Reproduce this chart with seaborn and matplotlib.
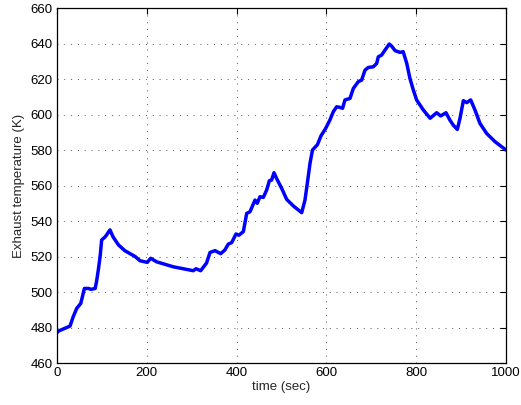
import numpy as np
import pandas as pd
import matplotlib
matplotlib.use('Agg')
import matplotlib.pyplot as plt
import seaborn as sns

# exhaust temperature trace
time_sec = [0, 1.5, 29, 36, 44, 53, 61, 70, 76, 85, 88, 92, 96, 99.5, 107, 110, 118, 125,
            137, 151, 174, 185, 201, 208.6, 222, 259, 303.6, 309.6, 320, 333, 340.8, 352,
            364.5, 374, 381.5, 389, 398.7, 405, 415, 422.5, 429.8, 441, 446, 452, 459.5,
            467, 473, 478, 483.3, 489, 500.4, 511.5, 526.3, 545, 552.3, 557.5, 563.5, 569,
            580, 588, 598, 608, 615.4, 623, 630, 636, 641.4, 652.6, 660, 671, 678.5, 686,
            693.4, 704.5, 712, 715.6, 723, 730.5, 740, 745, 753, 764, 771, 779, 786, 793.6,
            801, 816, 831, 845.6, 854.5, 866.4, 875, 882.6, 891.6, 897.6, 905, 912.5, 921.4,
            931, 942, 957, 975.5, 1000]
exhaust_temp = [477, 477.8, 480.8, 486, 490.8, 493.6, 502, 502, 501.5, 502, 505.8, 512.4, 520,
                529.3, 531, 532, 535, 531, 526.5, 523.3, 520, 517.6, 516.7, 519, 517, 514.2,
                512, 513.1, 512, 516.3, 522.3, 523.3, 521.6, 523.7, 527, 527.8, 532.7, 532,
                534, 544.3, 545.2, 551.8, 550, 553.7, 553.3, 557.5, 562.7, 563.1, 567.2, 564,
                558.4, 552.2, 548.5, 544.7, 551.8, 561.2, 572.5, 580, 583, 588, 592, 597,
                601.6, 604.4, 604, 603.5, 608.2, 609.1, 614.7, 618.5, 619.4, 625, 626.5, 626.9,
                628.8, 632.5, 633.5, 636.3, 639.7, 638.6, 636, 635, 635.4, 628.8, 620.4, 613.8,
                608.2, 602.5, 597.9, 601, 599.2, 601, 596.9, 594, 591.6, 597.9, 607.8, 606.7,
                608.2, 602.5, 595, 589.3, 584.7, 580]

df = pd.DataFrame({'time': time_sec, 'temp': exhaust_temp})

sns.set_style('white')
plt.rcParams['font.family'] = ['Liberation Sans', 'DejaVu Sans']

fig = plt.figure(figsize=(5.21, 4.05), dpi=100)
ax = fig.add_axes([0.1094, 0.1037, 0.8618, 0.8765])
sns.lineplot(x='time', y='temp', data=df, color='#0000ff', linewidth=2.5, ax=ax, sort=False)

ax.set_xlim(0, 1000)
ax.set_ylim(460, 660)
ax.set_xticks(np.arange(0, 1001, 200))
ax.set_yticks(np.arange(460, 661, 20))
ax.grid(True, color='#555555', linestyle=(0, (1, 6)), linewidth=0.7)
for s in ax.spines.values():
    s.set_color('black')
    s.set_linewidth(0.9)
ax.tick_params(direction='in', length=4, width=0.8, top=True, right=True,
               labelsize=9.5, colors='black', pad=3)
ax.set_xlabel('time (sec)', fontsize=9.5, labelpad=1)
ax.set_ylabel('Exhaust temperature (K)', fontsize=9.5, labelpad=4)

fig.savefig('out.png', dpi=100)
